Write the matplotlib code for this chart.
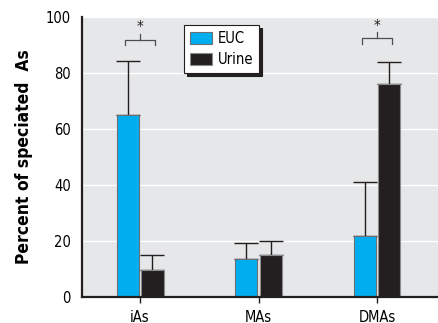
import matplotlib
matplotlib.use("Agg")
import matplotlib.pyplot as plt
import numpy as np

plt.rcParams['font.family'] = ['DejaVu Sans']
plt.rcParams['font.stretch'] = 'condensed'

categories = ["iAs", "MAs", "DMAs"]
euc = [65.0, 13.7, 21.7]
euc_err = [19.4, 5.5, 19.3]
urine = [9.6, 15.0, 76.0]
urine_err = [5.5, 4.9, 8.0]
yticks = [0, 20, 40, 60, 80, 100]
sig_groups = [0, 2]

fig = plt.figure(figsize=(4.38, 3.23), dpi=100)
ax = fig.add_axes([82/438, 1-297/323, 1-82/438, (297-17)/323])
ax.set_facecolor('#E6E7E8')
x = np.arange(len(categories))
w = 0.186
off = 0.105
ax.bar(x - off, euc, w, color='#00AEEF', edgecolor='#6d6e71', linewidth=0.8, zorder=3, label='EUC')
ax.bar(x + off, urine, w, color='#231F20', edgecolor='#8a8b8d', linewidth=0.8, zorder=3, label='Urine')
ax.errorbar(x - off, euc, yerr=[np.zeros(3), euc_err], fmt='none', ecolor='#231F20', elinewidth=1.0, capsize=8.5, capthick=1.0, zorder=2)
ax.errorbar(x + off, urine, yerr=[np.zeros(3), urine_err], fmt='none', ecolor='#231F20', elinewidth=1.0, capsize=8.5, capthick=1.0, zorder=2)

ax.set_ylim(0, 100)
ax.set_xlim(-0.49, 2.515)
ax.set_yticks(yticks)
ax.set_yticklabels([str(t) for t in yticks], fontsize=10.5)
ax.set_xticks(x)
ax.set_xticklabels(categories, fontsize=10.5)
ax.tick_params(axis='y', length=0, pad=8)
ax.tick_params(axis='x', length=4, width=1.0, direction='out', pad=5, color='#231F20')
ax.yaxis.grid(True, color='white', linewidth=1.0, zorder=0)
ax.set_axisbelow(True)
for s in ['top', 'right']:
    ax.spines[s].set_visible(False)
for s in ['left', 'bottom']:
    ax.spines[s].set_linewidth(1.6)
    ax.spines[s].set_color('#231F20')
    ax.spines[s].set_zorder(5)
ax.set_ylabel('Percent of speciated  As', fontsize=12.5, fontweight='bold', labelpad=9)

# significance brackets
for g in sig_groups:
    top = max(euc[g] + euc_err[g], urine[g] + urine_err[g])
    yb = top + 7.5 if g == 0 else top + 8.5
    xl, xr = g - 0.13, g + 0.13
    ax.plot([xl, xl, xr, xr], [yb - 2, yb, yb, yb - 2], color='#4d4d4f', lw=0.9, zorder=4, clip_on=False)
    ax.plot([g, g], [yb, yb + 2], color='#4d4d4f', lw=0.9, zorder=4)
    ax.text(g, yb + 1.5, '*', ha='center', va='bottom', fontsize=11, color='#231F20')

leg = ax.legend(loc='upper left', bbox_to_anchor=((184-82)/356, 1-(25-17)/280), fontsize=10.5,
                frameon=True, fancybox=False, shadow={'color': '#231F20', 'alpha': 1.0},
                edgecolor='#231F20',
                handlelength=1.5, handleheight=0.9, borderpad=0.4, labelspacing=0.45,
                handletextpad=0.4, borderaxespad=0)
leg.get_frame().set_linewidth(0.8)
leg.get_frame().set_facecolor('white')
leg.get_frame().set_alpha(1)

fig.savefig('out.png', dpi=100)
